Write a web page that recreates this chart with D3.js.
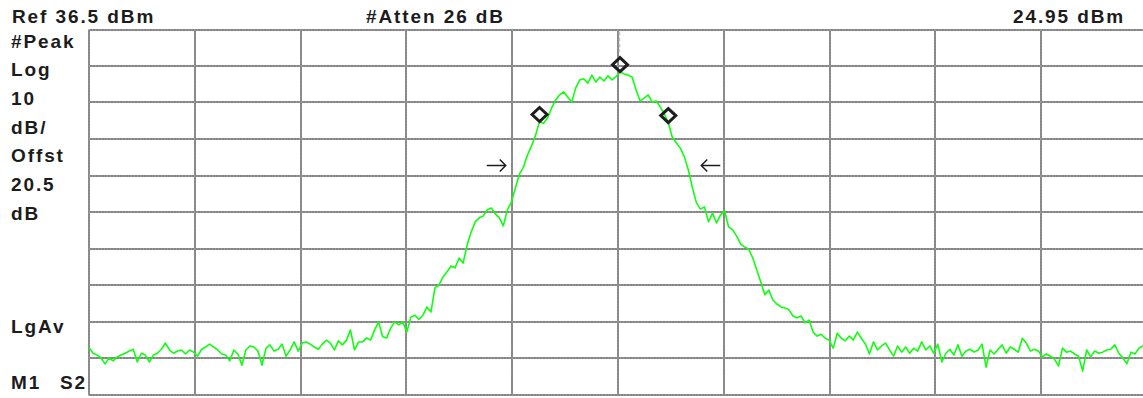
<!DOCTYPE html>
<html>
<head>
<meta charset="utf-8">
<script src="https://cdn.jsdelivr.net/npm/d3@7"></script>
<style>
  html, body { margin: 0; padding: 0; background: #ffffff; overflow: hidden; }
  svg { display: block; }
  .lbl {
    font-family: "Liberation Sans", Arial, Helvetica, sans-serif;
    font-weight: bold;
    font-size: 19px;
    letter-spacing: 1.9px;
    fill: #1c1c1c;
  }
</style>
</head>
<body>
<svg id="chart" width="1143" height="398"></svg>
<script>
// ---- analyzer settings ----
const refLevelDbm = 36.5;
const dbPerDiv = 10;
const numDivs = 10;

// ---- annotation text ----
const headerTexts = ["Ref 36.5 dBm", "#Atten 26 dB", "24.95 dBm"];
const sideTexts = ["#Peak", "Log", "10", "dB/", "Offst", "20.5", "dB"];
const avgText = "LgAv";
const statusTexts = ["M1", "S2"];

// ---- swept trace, dBm per sweep point ----
const traceDbm = [
  -50.6, -52.2, -52.7, -53.5, -55.1, -53.5, -54.3, -53.2, -52.7, -52.2,
  -51.6, -51.1, -54.6, -52.2, -52.7, -54.6, -52.7, -52.2, -51.1, -49.4,
  -51.3, -52.2, -51.6, -51.3, -52.4, -51.3, -51.9, -53.0, -51.1, -50.5,
  -49.7, -50.5, -51.3, -52.4, -52.7, -54.3, -51.3, -52.4, -55.5, -51.3,
  -50.2, -50.5, -51.6, -55.5, -50.8, -49.9, -51.6, -51.1, -49.7, -53.0,
  -51.3, -49.1, -51.6, -49.4, -49.1, -49.7, -50.5, -51.1, -49.7, -48.6,
  -49.4, -51.3, -48.8, -49.9, -48.6, -45.8, -51.3, -49.1, -49.1, -48.0,
  -48.6, -45.8, -43.6, -47.7, -48.0, -45.3, -43.6, -44.4, -43.6, -46.4,
  -42.3, -41.8, -42.9, -41.8, -39.5, -40.9, -34.3, -33.5, -31.3, -29.9,
  -28.3, -28.8, -26.1, -27.5, -22.5, -19.0, -16.2, -15.1, -14.6, -12.9,
  -12.4, -14.0, -15.1, -17.3, -12.9, -10.8, -6.9, -3.1, -1.2, 2.1,
  4.6, 7.5, 11.3, 10.8, 12.3, 15.0, 17.2, 18.6, 19.4, 18.0,
  16.6, 20.5, 22.7, 23.0, 21.8, 24.0, 22.1, 23.5, 22.4, 23.8,
  22.7, 23.6, 24.95, 24.3, 24.0, 23.5, 19.9, 16.9, 17.7, 18.6,
  16.6, 16.9, 15.3, 13.4, 11.0, 7.0, 5.4, 4.0, 1.6, -2.0,
  -6.9, -11.0, -12.7, -12.1, -16.2, -13.8, -16.5, -14.3, -13.2, -17.6,
  -18.4, -20.1, -22.3, -23.1, -23.7, -26.1, -29.4, -32.7, -36.2, -34.9,
  -37.6, -38.7, -39.5, -39.8, -40.3, -42.0, -42.5, -42.0, -43.9, -43.1,
  -46.4, -47.5, -47.0, -48.1, -48.6, -50.8, -46.7, -48.1, -48.8, -47.5,
  -48.6, -46.4, -48.1, -49.7, -52.4, -49.1, -51.3, -50.2, -49.4, -51.3,
  -53.0, -50.2, -51.9, -50.5, -52.2, -50.8, -51.6, -49.1, -51.3, -50.2,
  -52.2, -49.7, -54.6, -52.2, -51.1, -52.7, -49.9, -53.0, -51.6, -51.1,
  -51.9, -51.3, -49.7, -56.0, -51.3, -52.4, -51.1, -49.9, -52.2, -50.5,
  -51.1, -51.9, -48.1, -49.4, -51.6, -51.1, -51.6, -53.2, -52.4, -53.0,
  -53.8, -55.7, -50.8, -51.9, -51.6, -52.4, -53.0, -57.1, -51.3, -53.2,
  -51.6, -52.2, -51.9, -51.3, -51.1, -49.9, -52.2, -53.5, -55.1, -51.9,
  -52.4, -50.8, -50.2, -49.1
];

// ---- markers (sweep point indices); first one is the peak marker ----
const markerPoints = [132, 112, 144];
// occupied-bandwidth edges (sweep points) and the level the arrows sit at (dBm)
const obwEdges = [103.6, 152.2];
const obwArrowLevelDbm = -0.6;

// ---- layout (the graticule's right edge runs just past the window) ----
const plot = { left: 89, top: 29.5, right: 1147, bottom: 394.5 };

const svg = d3.select("#chart");

const x = d3.scaleLinear()
  .domain([0, traceDbm.length - 1])
  .range([plot.left, plot.right]);

const y = d3.scaleLinear()
  .domain([refLevelDbm - dbPerDiv * numDivs, refLevelDbm])
  .range([plot.bottom, plot.top]);

const divX = d3.scaleLinear().domain([0, numDivs]).range([plot.left, plot.right]);
const divIdx = d3.range(numDivs + 1);
const levelTicks = divIdx.map(k => refLevelDbm - k * dbPerDiv);

// ---- graticule ----
const grid = svg.append("g").attr("class", "grid");

function drawGridLines(sel, color, width, dash) {
  sel.selectAll(null)
    .data(divIdx)
    .join("line")
    .attr("x1", k => Math.round(divX(k)))
    .attr("x2", k => Math.round(divX(k)))
    .attr("y1", plot.top)
    .attr("y2", plot.bottom + 1)
    .attr("stroke", color)
    .attr("stroke-width", width)
    .attr("stroke-dasharray", dash);
  sel.selectAll(null)
    .data(levelTicks)
    .join("line")
    .attr("x1", plot.left)
    .attr("x2", plot.right)
    .attr("y1", v => Math.round(y(v)))
    .attr("y2", v => Math.round(y(v)))
    .attr("stroke", color)
    .attr("stroke-width", width)
    .attr("stroke-dasharray", dash);
}
drawGridLines(grid.append("g"), "#858585", 2, null);
drawGridLines(grid.append("g"), "#a9a9a9", 1, "1 2");

// ---- trace ----
const line = d3.line()
  .x((d, i) => x(i))
  .y(d => y(d));

svg.append("path")
  .datum(traceDbm)
  .attr("d", line)
  .attr("fill", "none")
  .attr("stroke", "#10ff10")
  .attr("stroke-width", 1.6)
  .attr("stroke-linejoin", "round");

// ---- marker line above the peak ----
const peakIdx = markerPoints[0];
svg.append("line")
  .attr("x1", Math.round(x(peakIdx)) - 0.5)
  .attr("x2", Math.round(x(peakIdx)) - 0.5)
  .attr("y1", plot.top + 2)
  .attr("y2", y(traceDbm[peakIdx]) - 20)
  .attr("stroke", "#c4c4c4")
  .attr("stroke-width", 1.5)
  .attr("stroke-dasharray", "4 2");

// ---- diamond markers (bottom tip rests on the trace) ----
const dHalfW = 7.5, dHalfH = 7;
svg.append("g")
  .selectAll("path")
  .data(markerPoints)
  .join("path")
  .attr("d", i => {
    const cx = x(i), cy = y(traceDbm[i]) - dHalfH;
    return `M${cx},${cy - dHalfH} L${cx + dHalfW},${cy} L${cx},${cy + dHalfH} L${cx - dHalfW},${cy} Z`;
  })
  .attr("fill", "none")
  .attr("stroke", "#1e1e1e")
  .attr("stroke-width", 3)
  .attr("stroke-linejoin", "miter");

// ---- occupied bandwidth arrows ----
const arrowLen = 19, headLen = 6;
const ay = Math.round(y(obwArrowLevelDbm)) + 0.5;
svg.append("g")
  .selectAll("path")
  .data(obwEdges.map((e, k) => ({ e, dir: k === 0 ? 1 : -1 })))
  .join("path")
  .attr("d", d => {
    const tip = x(d.e);
    const tail = tip - d.dir * arrowLen;
    const hb = tip - d.dir * headLen;
    return `M${tail},${ay} L${tip},${ay} M${hb},${ay - headLen} L${tip},${ay} L${hb},${ay + headLen}`;
  })
  .attr("fill", "none")
  .attr("stroke", "#1e1e1e")
  .attr("stroke-width", 1.5);

// ---- text ----
const headerX = [12, 366, 1013];
svg.append("g")
  .selectAll("text")
  .data(headerTexts)
  .join("text")
  .attr("class", "lbl")
  .attr("x", (d, i) => headerX[i])
  .attr("y", 22.5)
  .text(d => d);

svg.append("g")
  .selectAll("text")
  .data(sideTexts)
  .join("text")
  .attr("class", "lbl")
  .attr("x", 11)
  .attr("y", (d, i) => 47.5 + i * 28.7)
  .text(d => d);

svg.append("text")
  .attr("class", "lbl")
  .attr("x", 11)
  .attr("y", 332.5)
  .text(avgText);

const statusX = [11, 60];
svg.append("g")
  .selectAll("text")
  .data(statusTexts)
  .join("text")
  .attr("class", "lbl")
  .attr("x", (d, i) => statusX[i])
  .attr("y", 389)
  .text(d => d);
</script>
</body>
</html>
